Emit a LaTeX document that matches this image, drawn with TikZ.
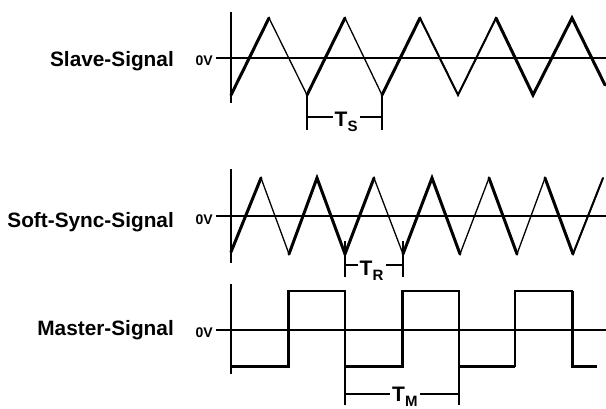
\documentclass[tikz,border=0pt]{standalone}
\usepackage{fontspec}
\setmainfont{Liberation Sans}
\begin{document}
\begin{tikzpicture}[x=1pt,y=-1pt,
  thinw/.style={line width=1.3pt, line join=miter},
  midw/.style={line width=2pt, line join=miter, line cap=round},
  boldw/.style={line width=3pt, line join=miter, line cap=round},
  axisw/.style={line width=1.4pt},
  markw/.style={line width=1.4pt},
  siglabel/.style={font=\fontsize{20.8}{24}\selectfont\bfseries, anchor=base east, inner sep=0pt},
  zerolabel/.style={font=\fontsize{14}{16}\selectfont\bfseries, anchor=base east, inner sep=0pt},
  perlabel/.style={font=\fontsize{21}{23}\selectfont\bfseries, anchor=base west, inner xsep=2pt, inner ysep=0pt}]
\useasboundingbox (0,0) rectangle (606,408);

\newcommand{\persub}[2]{#1\raisebox{-4.5pt}{\fontsize{15}{16}\selectfont #2}}

% ---------------- Slave signal ----------------
\node[siglabel] (slabel) at (174,66.5) {Slave-Signal};
\node[zerolabel] (s0v) at (213,65.5) {0V};
\coordinate (sz0) at (216,58);
\coordinate (sz1) at (606,58);
\draw[axisw] (231,12) -- (231,103);
\draw[axisw] (sz0) -- (sz1);
\draw[thinw] (231,95) -- (269,18) -- (307,95) -- (345,18) -- (382,95) -- (420,18) -- (458,95) -- (496,18) -- (533,95) -- (572,18) -- (605,85);
\draw[boldw] (231,95) -- (269,18);
\draw[boldw] (307,95) -- (345,18);
\draw[boldw] (382,95) -- (420,18);
\draw[midw] (420,18) -- (458,95) -- (496,18);
\draw[boldw] (496,18) -- (533,95) -- (572,18) -- (605,85);
% T_S
\coordinate (tsa) at (307,117);
\coordinate (tsb) at (382,117);
\draw[markw] (307,95) -- (307,130);
\draw[markw] (382,95) -- (382,130);
\node[perlabel] (ts) at (332.5,126.5) {\persub{T}{S}};
\draw[markw] (tsa) -- (tsa -| ts.west);
\draw[markw] (tsb) -- (tsb -| ts.east);

% ---------------- Soft-Sync signal ----------------
\node[siglabel] (rlabel) at (174,227.5) {Soft-Sync-Signal};
\node[zerolabel] (r0v) at (213,224) {0V};
\coordinate (rz0) at (216,216);
\coordinate (rz1) at (606,216);
\draw[axisw] (231,169) -- (231,263);
\draw[axisw] (rz0) -- (rz1);
\draw[thinw] (231,252) -- (261,178) -- (289,254) -- (317,178) -- (345,254) -- (374,178) -- (403,254) -- (432,178) -- (460,254) -- (489,178) -- (517,254) -- (545,178) -- (573,254) -- (603,178);
\draw[boldw] (231,252) -- (261,178);
\draw[boldw] (289,254) -- (317,178) -- (345,254) -- (374,178);
\draw[boldw] (403,254) -- (432,178) -- (460,254);
\draw[boldw] (489,178) -- (517,254);
\draw[boldw] (545,178) -- (573,254);
\draw[midw] (573,254) -- (603,178);
% T_R
\coordinate (tra) at (345,265);
\coordinate (trb) at (403,265);
\draw[markw] (345,241) -- (345,277);
\draw[markw] (403,241) -- (403,277);
\node[perlabel] (tr) at (357.5,275.5) {\persub{T}{R}};
\draw[markw] (tra) -- (tra -| tr.west);
\draw[markw] (trb) -- (trb -| tr.east);

% ---------------- Master signal ----------------
\node[siglabel] (mlabel) at (174,335.5) {Master-Signal};
\node[zerolabel] (m0v) at (213,337.5) {0V};
\coordinate (mz0) at (216,330);
\coordinate (mz1) at (606,330);
\draw[axisw] (231,284) -- (231,374);
\draw[axisw] (mz0) -- (mz1);
\draw[thinw] (231,366) -- (288,366) -- (288,291) -- (345,291) -- (345,366) -- (402,366) -- (402,291) -- (459,291) -- (459,366) -- (515,366) -- (515,291) -- (572,291) -- (572,366) -- (597,366);
\draw[boldw, line cap=butt] (231,366) -- (288,366) -- (288,291);
\draw[boldw, line cap=butt] (345,366) -- (402,366) -- (402,291);
\draw[boldw, line cap=butt] (459,366) -- (515,366);
\draw[midw, line cap=butt] (515,366) -- (515,291);
\draw[boldw, line cap=butt] (572,291) -- (572,366) -- (597,366);
% T_M
\coordinate (tma) at (345,394);
\coordinate (tmb) at (459,394);
\draw[markw] (345,366) -- (345,405);
\draw[markw] (459,366) -- (459,405);
\node[perlabel] (tm) at (390,401.5) {\persub{T}{M}};
\draw[markw] (tma) -- (tma -| tm.west);
\draw[markw] (tmb) -- (tmb -| tm.east);
\end{tikzpicture}
\end{document}
